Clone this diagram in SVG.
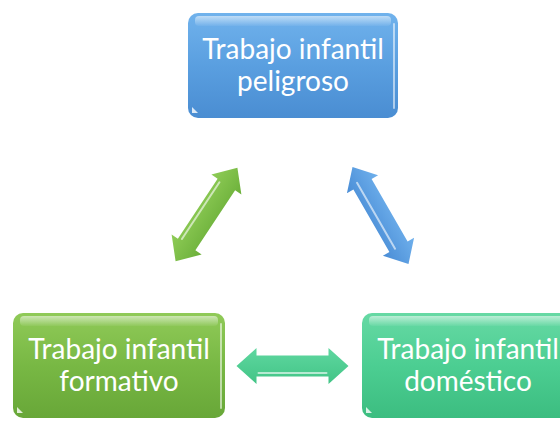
<svg xmlns="http://www.w3.org/2000/svg" width="560" height="421" viewBox="0 0 560 421">
  <defs>
    <linearGradient id="gBlue" x1="0" y1="0" x2="0" y2="1">
      <stop offset="0" stop-color="#70b2ec"/>
      <stop offset="0.5" stop-color="#5a9fe0"/>
      <stop offset="1" stop-color="#4a8dd2"/>
    </linearGradient>
    <linearGradient id="gGreen" x1="0" y1="0" x2="0" y2="1">
      <stop offset="0" stop-color="#90ca58"/>
      <stop offset="0.5" stop-color="#78b844"/>
      <stop offset="1" stop-color="#68a738"/>
    </linearGradient>
    <linearGradient id="gTeal" x1="0" y1="0" x2="0" y2="1">
      <stop offset="0" stop-color="#66d9a4"/>
      <stop offset="0.5" stop-color="#4cce92"/>
      <stop offset="1" stop-color="#3cbd80"/>
    </linearGradient>
    <linearGradient id="gGloss" x1="0" y1="0" x2="0" y2="1">
      <stop offset="0" stop-color="#ffffff" stop-opacity="0.55"/>
      <stop offset="1" stop-color="#ffffff" stop-opacity="0.05"/>
    </linearGradient>
    <linearGradient id="aBlue" x1="0" y1="0" x2="0" y2="1">
      <stop offset="0" stop-color="#6fb0ec"/>
      <stop offset="1" stop-color="#4a8dd6"/>
    </linearGradient>
    <linearGradient id="aGreen" x1="0" y1="0" x2="0" y2="1">
      <stop offset="0" stop-color="#8fcc57"/>
      <stop offset="1" stop-color="#6cb03a"/>
    </linearGradient>
    <linearGradient id="aTeal" x1="0" y1="0" x2="0" y2="1">
      <stop offset="0" stop-color="#5fd7a0"/>
      <stop offset="1" stop-color="#42c486"/>
    </linearGradient>
    <polygon id="dblArrow" points="-56,0 -36,-18 -36,-10.5 36,-10.5 36,-18 56,0 36,18 36,10.5 -36,10.5 -36,18"/>
  </defs>
  <style>
    .lbl { font-family: Lato, "Open Sans", "Liberation Sans", sans-serif; font-size: 28px; fill: #ffffff; text-anchor: middle; }
    .gloss { fill: url(#gGloss); }
    .edge { stroke: #ffffff; stroke-opacity: 0.55; stroke-width: 2; fill: none; stroke-linecap: round; }
    .shine { stroke: #ffffff; stroke-opacity: 0.6; stroke-width: 2; fill: none; stroke-linecap: round; }
  </style>

  <g id="connectors">
    <g id="arrow-formativo-peligroso" transform="translate(206.5,214.5) rotate(-56.5)">
      <use href="#dblArrow" fill="url(#aGreen)"/>
      <line class="shine" x1="-34" y1="-7" x2="34" y2="-7"/>
    </g>
    <g id="arrow-peligroso-domestico" transform="translate(380.5,215.5) rotate(60)">
      <use href="#dblArrow" fill="url(#aBlue)"/>
      <line class="shine" x1="-40" y1="4" x2="36" y2="4"/>
    </g>
    <g id="arrow-formativo-domestico" transform="translate(292.5,366)">
      <use href="#dblArrow" fill="url(#aTeal)"/>
      <line class="shine" x1="-34" y1="7" x2="34" y2="7"/>
    </g>
  </g>

  <g id="node-peligroso">
    <rect x="188" y="13" width="210" height="105" rx="10" fill="url(#gBlue)"/>
    <rect class="gloss" x="195" y="16" width="196" height="10" rx="4"/>
    <line class="edge" x1="394" y1="24" x2="394" y2="108"/>
    <polygon points="192,113 192,107 198,113" fill="#ffffff" fill-opacity="0.8"/>
    <text class="lbl" x="293" y="59">Trabajo infantil</text>
    <text class="lbl" x="293" y="91">peligroso</text>
  </g>

  <g id="node-formativo">
    <rect x="13" y="313" width="212" height="105" rx="10" fill="url(#gGreen)"/>
    <rect class="gloss" x="20" y="316" width="198" height="10" rx="4"/>
    <line class="edge" x1="221" y1="324" x2="221" y2="408"/>
    <polygon points="17,413 17,407 23,413" fill="#ffffff" fill-opacity="0.8"/>
    <text class="lbl" x="119" y="359">Trabajo infantil</text>
    <text class="lbl" x="119" y="391">formativo</text>
  </g>

  <g id="node-domestico">
    <rect x="362" y="313" width="212" height="105" rx="10" fill="url(#gTeal)"/>
    <rect class="gloss" x="369" y="316" width="198" height="10" rx="4"/>
    <polygon points="366,413 366,407 372,413" fill="#ffffff" fill-opacity="0.8"/>
    <text class="lbl" x="468" y="359">Trabajo infantil</text>
    <text class="lbl" x="468" y="391">doméstico</text>
  </g>
</svg>
